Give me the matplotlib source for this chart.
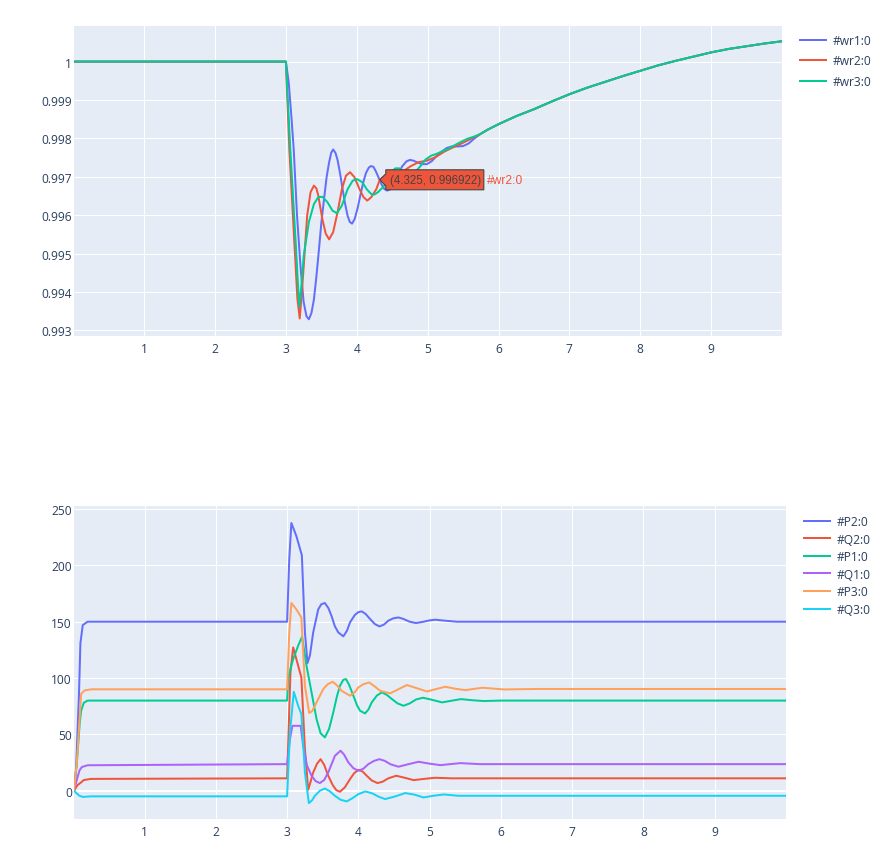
import matplotlib
matplotlib.use("Agg")
import matplotlib.pyplot as plt
import matplotlib.transforms as mtransforms
from matplotlib.patches import Polygon

# ---------------- data: top panel (rotor speeds) ----------------
tail_t = [6.0, 6.25, 6.5, 6.75, 7.0, 7.25, 7.5, 7.75, 8.0, 8.25, 8.5, 8.75,
          9.0, 9.25, 9.5, 9.75, 10.0]
tail_v = [0.99837, 0.99858, 0.99876, 0.99896, 0.99915, 0.99932, 0.99947,
          0.99962, 0.99976, 0.99990, 1.00002, 1.00013, 1.00024, 1.00033,
          1.00040, 1.00047, 1.00053]

wr1_t = [0.01, 3.0, 3.04, 3.08, 3.11, 3.157, 3.205, 3.25, 3.29, 3.324,
         3.36, 3.395, 3.43, 3.467, 3.50, 3.538, 3.575, 3.61, 3.64, 3.667,
         3.70, 3.73, 3.765, 3.80, 3.835, 3.87, 3.90, 3.933, 3.97, 4.014,
         4.055, 4.095, 4.13, 4.17, 4.20, 4.235, 4.27, 4.31, 4.35, 4.39,
         4.43, 4.47, 4.52, 4.58, 4.64, 4.70, 4.75, 4.80, 4.86, 4.92,
         4.99, 5.06, 5.13, 5.20, 5.27, 5.34, 5.42, 5.50, 5.58, 5.66,
         5.74, 5.85]
wr1_v = [1.0, 1.0, 0.99945, 0.99850, 0.99772, 0.99599, 0.99469, 0.99374, 0.99337, 0.99329,
         0.99345, 0.99380, 0.99440, 0.99512, 0.99580, 0.99642, 0.99700, 0.99738, 0.99763, 0.99771,
         0.99762, 0.99743, 0.99708, 0.99668, 0.99630, 0.99599, 0.99583, 0.99578, 0.99590, 0.99620,
         0.99656, 0.99688, 0.99710, 0.99724, 0.99728, 0.99726, 0.99714, 0.99697, 0.99680, 0.99668,
         0.99664, 0.99667, 0.99682, 0.99705, 0.99727, 0.99740, 0.99744, 0.99742, 0.99737, 0.99733,
         0.99733, 0.99741, 0.99755, 0.99766, 0.99775, 0.99779, 0.99779, 0.99780, 0.99787, 0.99800,
         0.99811, 0.99823]

wr2_t = [0.01, 3.0, 3.048, 3.124, 3.162, 3.195, 3.225, 3.252, 3.30, 3.348,
         3.395, 3.43, 3.457, 3.514, 3.562, 3.61, 3.667, 3.729, 3.79, 3.848,
         3.905, 3.967, 4.038, 4.095, 4.148, 4.205, 4.276, 4.325, 4.38, 4.45,
         4.52, 4.58, 4.64, 4.70, 4.755, 4.87, 4.99, 5.11, 5.23, 5.34,
         5.46, 5.60, 5.74, 5.85]
wr2_v = [1.0, 1.0, 0.99772, 0.99513, 0.99383, 0.99331, 0.99400, 0.99469, 0.99599, 0.99660,
         0.99677, 0.99670, 0.99651, 0.99590, 0.99552, 0.99537, 0.99556, 0.99608, 0.99668, 0.99703,
         0.99712, 0.99699, 0.99668, 0.99647, 0.99638, 0.99647, 0.99668, 0.996922, 0.99700, 0.99704,
         0.99705, 0.99707, 0.99712, 0.99720, 0.99727, 0.99738, 0.99742, 0.99751, 0.99765, 0.99775,
         0.99785, 0.99798, 0.99811, 0.99823]

wr3_t = [0.01, 3.0, 3.062, 3.143, 3.17, 3.19, 3.22, 3.252, 3.324, 3.395,
         3.457, 3.514, 3.586, 3.657, 3.72, 3.79, 3.871, 3.943, 4.005, 4.076,
         4.143, 4.205, 4.25, 4.30, 4.38, 4.45, 4.50, 4.545, 4.60, 4.66,
         4.72, 4.755, 4.82, 4.90, 4.97, 5.05, 5.13, 5.20, 5.28, 5.36,
         5.46, 5.56, 5.66, 5.74, 5.85]
wr3_v = [1.0, 1.0, 0.99772, 0.99513, 0.99420, 0.99361, 0.99420, 0.99495, 0.99582, 0.99629,
         0.99647, 0.99648, 0.99634, 0.99612, 0.99605, 0.99625, 0.99668, 0.99690, 0.99694, 0.99686,
         0.99667, 0.99655, 0.99654, 0.99660, 0.99675, 0.99700, 0.99715, 0.99722, 0.99722, 0.99715,
         0.99709, 0.99707, 0.99712, 0.99728, 0.99745, 0.99755, 0.99760, 0.99766, 0.99772, 0.99780,
         0.99790, 0.99799, 0.99805, 0.99811, 0.99823]

top_names = ["#wr1:0", "#wr2:0", "#wr3:0"]
top_yticks = [0.993, 0.994, 0.995, 0.996, 0.997, 0.998, 0.999, 1.0]
top_ylabels = ["0.993", "0.994", "0.995", "0.996", "0.997", "0.998", "0.999", "1"]

hover_t, hover_v = 4.325, 0.996922
hover_text = "(4.325, 0.996922)"

# ---------------- data: bottom panel (powers) ----------------
p2_t = [0.01, 0.04, 0.08, 0.10, 0.133, 0.2, 3.0, 3.03, 3.06, 3.13,
        3.207, 3.25, 3.286, 3.32, 3.366, 3.437, 3.48, 3.53, 3.58, 3.624,
        3.67, 3.718, 3.789, 3.84, 3.883, 3.95, 4.0, 4.047, 4.10, 4.164,
        4.23, 4.296, 4.36, 4.42, 4.49, 4.563, 4.63, 4.72, 4.808, 4.9,
        5.0, 5.08, 5.2, 5.385, 10.0]
p2_v = [0, 20, 86, 131, 147, 150, 150, 205, 237.6, 226,
        209, 140.5, 113.3, 120, 140.5, 161, 165.5, 166.6, 162, 155,
        146, 140.5, 137, 142, 149.4, 156, 158.5, 159.2, 157, 152.4,
        148, 145.8, 147.5, 150.9, 153, 153.8, 152.5, 150, 148.8, 149.8,
        151.2, 151.8, 151, 150, 150]

q2_t = [0.01, 0.06, 0.11, 0.147, 0.25, 3.0, 3.047, 3.085, 3.13, 3.2,
        3.25, 3.296, 3.33, 3.366, 3.42, 3.47, 3.52, 3.577, 3.64, 3.69,
        3.742, 3.81, 3.883, 3.94, 4.0, 4.06, 4.117, 4.19, 4.268, 4.34,
        4.42, 4.53, 4.65, 4.775, 4.92, 5.08, 5.3, 10.0]
q2_v = [0, 5, 7.4, 9.5, 10.5, 11, 105, 127.2, 116.8, 100.6,
        37, 0.9, 8, 16.2, 24, 28, 23, 13.3, 5, 0.5,
        -0.9, 3, 10.3, 15.5, 18.6, 17, 13.3, 9, 6.8, 8,
        11, 13.3, 11.5, 9.4, 10.5, 11.5, 11, 11]

p1_t = [0.01, 0.05, 0.09, 0.11, 0.147, 0.2, 3.0, 3.014, 3.05, 3.085,
        3.155, 3.21, 3.272, 3.343, 3.413, 3.47, 3.53, 3.59, 3.648, 3.70,
        3.742, 3.79, 3.826, 3.87, 3.93, 3.98, 4.023, 4.094, 4.14, 4.188,
        4.26, 4.33, 4.40, 4.47, 4.55, 4.634, 4.72, 4.81, 4.906, 5.0,
        5.174, 5.30, 5.44, 5.6, 5.76, 6.0, 10.0]
p1_v = [0, 25, 60, 71, 78, 80, 80, 99, 109, 116.8,
        128.7, 136.7, 111, 87.3, 63.6, 51, 47.3, 55, 69.5, 84,
        93.2, 98.5, 99.1, 94, 84.3, 76, 71, 68.6, 72, 78.4,
        84.5, 87.3, 85, 81.4, 77.5, 75.4, 77.5, 81, 82.5, 81.2,
        78.4, 79.8, 81.3, 80.3, 79.6, 80, 80]

q1_t = [0.01, 0.06, 0.087, 0.12, 0.2, 3.0, 3.04, 3.075, 3.19, 3.225,
        3.28, 3.343, 3.40, 3.46, 3.52, 3.577, 3.63, 3.671, 3.75, 3.80,
        3.86, 3.93, 4.0, 4.07, 4.14, 4.22, 4.296, 4.37, 4.45, 4.563,
        4.70, 4.845, 5.0, 5.15, 5.43, 5.7, 10.0]
q1_v = [0, 12, 18, 21, 22.6, 23.6, 46, 57.6, 57.6, 40,
        22.2, 13.3, 8.5, 6.8, 9.5, 16.2, 24.5, 31, 35.5, 32,
        25.1, 20, 17.7, 19.5, 23.6, 26.5, 28, 26.5, 23.5, 21.3,
        23.5, 25.7, 24, 22.7, 24.5, 23.6, 23.6]

p3_t = [0.01, 0.052, 0.087, 0.11, 0.158, 0.25, 3.0, 3.03, 3.06, 3.13,
        3.2, 3.25, 3.31, 3.35, 3.39, 3.45, 3.507, 3.57, 3.64, 3.70,
        3.765, 3.883, 3.95, 4.0, 4.07, 4.15, 4.23, 4.305, 4.446, 4.56,
        4.68, 4.82, 4.962, 5.09, 5.22, 5.36, 5.5, 5.74, 6.04, 6.5,
        10.0]
p3_v = [0, 27, 62.5, 86, 89, 90, 90, 140, 166.6, 161,
        153.8, 93, 69, 70.5, 75.4, 83, 90.2, 94.5, 96.7, 93.5,
        88.7, 84.3, 87.5, 91.7, 94.5, 96.1, 92.5, 88.7, 86.4, 90,
        93.8, 91, 88.1, 90.2, 92.3, 90.5, 89.3, 91.4, 89.9, 90.3,
        90.3]

q3_t = [0.01, 0.05, 0.087, 0.133, 0.25, 3.0, 3.04, 3.094, 3.155, 3.2,
        3.25, 3.305, 3.35, 3.39, 3.46, 3.53, 3.60, 3.67, 3.75, 3.836,
        3.92, 4.0, 4.1, 4.2, 4.29, 4.376, 4.52, 4.657, 4.79, 4.915,
        5.05, 5.2, 5.4, 10.0]
q3_v = [0, -2.5, -4.5, -5.5, -5, -5, 51.8, 87.8, 75.4, 68,
        16.2, -11, -8.5, -4.5, 0, 2, -0.5, -4.5, -8, -9.5,
        -6.5, -3, -0.6, -2.5, -5.5, -7.4, -5, -2.1, -3.5, -6,
        -4.5, -3.3, -4.5, -4.5]

bottom_names = ["#P2:0", "#Q2:0", "#P1:0", "#Q1:0", "#P3:0", "#Q3:0"]
bottom_yticks = [0, 50, 100, 150, 200, 250]
xticks = [1, 2, 3, 4, 5, 6, 7, 8, 9]

# ---------------- style ----------------
colors = ["#636EFA", "#EF553B", "#00CC96", "#AB63FA", "#FFA15A", "#19D3F3"]
font_color = "#2a3f5f"
plt.rcParams["font.family"] = ["Open Sans", "DejaVu Sans"]
plt.rcParams["font.size"] = 8.64
lw = 1.44

W, H = 895, 845
fig = plt.figure(figsize=(W / 100, H / 100), dpi=100)


def px_axes(left, top, right, bottom):
    return fig.add_axes([left / W, 1 - bottom / H, (right - left) / W, (bottom - top) / H])


def style(ax):
    ax.set_facecolor("#E5ECF6")
    for s in ax.spines.values():
        s.set_visible(False)
    ax.grid(True, color="white", linewidth=0.75)
    ax.set_axisbelow(True)
    ax.tick_params(length=0, labelcolor=font_color, labelsize=8.64)
    ax.tick_params(axis="y", pad=1.5)
    ax.tick_params(axis="x", pad=4)
    ax.set_xticks(xticks)
    ax.set_xticklabels([str(x) for x in xticks])


# top panel
ax1 = px_axes(74, 27, 782, 337)
style(ax1)
for t, v, name, c in zip([wr1_t, wr2_t, wr3_t], [wr1_v, wr2_v, wr3_v], top_names, colors):
    ax1.plot(t + tail_t, v + tail_v, color=c, lw=lw, label=name, solid_joinstyle="round")
ax1.set_xlim(0.01, 10.0)
ax1.set_ylim(0.992854, 1.000927)
ax1.set_yticks(top_yticks)
ax1.set_yticklabels(top_ylabels)
ax1.legend(loc="upper left", bbox_to_anchor=(800 / W, 1 - 35 / H), bbox_transform=fig.transFigure,
           frameon=False, borderpad=0, borderaxespad=0, handlelength=2.2, handletextpad=0.55,
           labelspacing=0.62, labelcolor=font_color, fontsize=8.64)

# hover label
tr = fig.dpi_scale_trans + mtransforms.ScaledTranslation(hover_t, hover_v, ax1.transData)
shape = [(0, 0), (0.06, 0.06), (0.06, 0.10), (1.04, 0.10), (1.04, -0.10), (0.06, -0.10), (0.06, -0.06)]
ax1.add_patch(Polygon(shape, closed=True, transform=tr, facecolor=colors[1], edgecolor="#444444",
                      linewidth=0.8, zorder=10, clip_on=False))
ax1.text(0.10, 0.0, hover_text, transform=tr, ha="left", va="center", color="#444444",
         family="Liberation Sans", fontsize=8.3, zorder=11)
ax1.text(1.07, 0.0, top_names[1], transform=tr, ha="left", va="center", color=colors[1],
         family="Liberation Sans", fontsize=8.64, zorder=11)

# bottom panel
ax2 = px_axes(74, 507, 786, 820)
style(ax2)
ax2.axhline(0, color="white", linewidth=1.5, zorder=1)
for t, v, name, c in zip([p2_t, q2_t, p1_t, q1_t, p3_t, q3_t],
                         [p2_v, q2_v, p1_v, q1_v, p3_v, q3_v], bottom_names, colors):
    ax2.plot(t, v, color=c, lw=lw, label=name, solid_joinstyle="round")
ax2.set_xlim(0.01, 10.0)
ax2.set_ylim(-25.1, 252.7)
ax2.set_yticks(bottom_yticks)
ax2.set_yticklabels([str(y) for y in bottom_yticks])
ax2.legend(loc="upper left", bbox_to_anchor=(804 / W, 1 - 516 / H), bbox_transform=fig.transFigure,
           frameon=False, borderpad=0, borderaxespad=0, handlelength=2.2, handletextpad=0.55,
           labelspacing=0.38, labelcolor=font_color, fontsize=8.64)

fig.savefig("out.png", dpi=100)
